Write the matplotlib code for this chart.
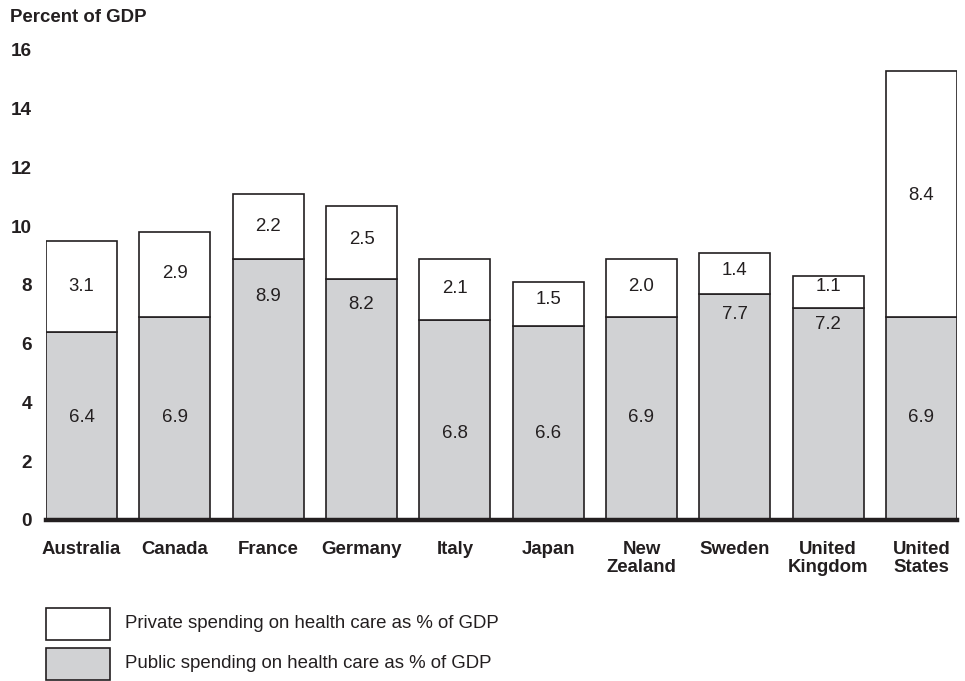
import matplotlib.pyplot as plt
from matplotlib.patches import Rectangle

plt.rcParams['font.family'] = ['Liberation Sans', 'DejaVu Sans']

countries = ["Australia", "Canada", "France", "Germany", "Italy", "Japan",
             "New\nZealand", "Sweden", "United\nKingdom", "United\nStates"]
public = [6.4, 6.9, 8.9, 8.2, 6.8, 6.6, 6.9, 7.7, 7.2, 6.9]
private = [3.1, 2.9, 2.2, 2.5, 2.1, 1.5, 2.0, 1.4, 1.1, 8.4]

# where the value labels sit (data units), as placed in the original
public_label_y = [3.5, 3.5, 7.6, 7.33, 2.96, 2.96, 3.5, 7.0, 6.67, 3.5]
private_label_y = [7.96, 8.4, 9.98, 9.54, 7.89, 7.52, 7.96, 8.48, 7.96, 11.05]

gray = "#d1d2d4"
edge = "#231f20"
fs = 13.4

fig = plt.figure(figsize=(9.65, 6.81), dpi=100)
ax = fig.add_axes([46 / 965, (681 - 520) / 681, (957 - 46) / 965, 470 / 681])

x = list(range(len(countries)))
w = 0.761
ax.bar(x, public, width=w, color=gray, edgecolor=edge, linewidth=1.2, zorder=2)
ax.bar(x, private, bottom=public, width=w, color="white", edgecolor=edge,
       linewidth=1.2, zorder=2)

for i in x:
    ax.text(i, public_label_y[i], f"{public[i]:.1f}", ha="center", va="center",
            fontsize=fs, color=edge)
    ax.text(i, private_label_y[i], f"{private[i]:.1f}", ha="center", va="center",
            fontsize=fs, color=edge)

ax.set_xlim(-w / 2, len(countries) - 1 + w / 2)
ax.set_ylim(0, 16)
ax.axhline(0, color=edge, linewidth=3.2, zorder=3, clip_on=False)

for s in ax.spines.values():
    s.set_visible(False)

ax.set_yticks(range(0, 17, 2))
ax.set_yticklabels([str(v) for v in range(0, 17, 2)], fontsize=13.6,
                   fontweight="bold", color=edge)
ax.set_xticks(x)
ax.set_xticklabels(countries, fontsize=fs, fontweight="bold", color=edge,
                   linespacing=1.12)
ax.tick_params(axis="y", length=0, pad=10)
ax.tick_params(axis="x", length=0, pad=15)

fig.text(10 / 965, 1 - 17 / 681, "Percent of GDP", fontsize=fs,
         fontweight="bold", color=edge, va="center", ha="left")

# legend
for j, (fc, lab) in enumerate([("white", "Private spending on health care as % of GDP"),
                               (gray, "Public spending on health care as % of GDP")]):
    y0 = 608 + j * 40
    fig.add_artist(Rectangle((46 / 965, 1 - (y0 + 32) / 681), 64 / 965, 32 / 681,
                             transform=fig.transFigure, facecolor=fc,
                             edgecolor=edge, linewidth=1.2))
    fig.text(125 / 965, 1 - (y0 + 16) / 681, lab, fontsize=fs, color=edge,
             va="center", ha="left")

fig.savefig("out.png", dpi=100)
